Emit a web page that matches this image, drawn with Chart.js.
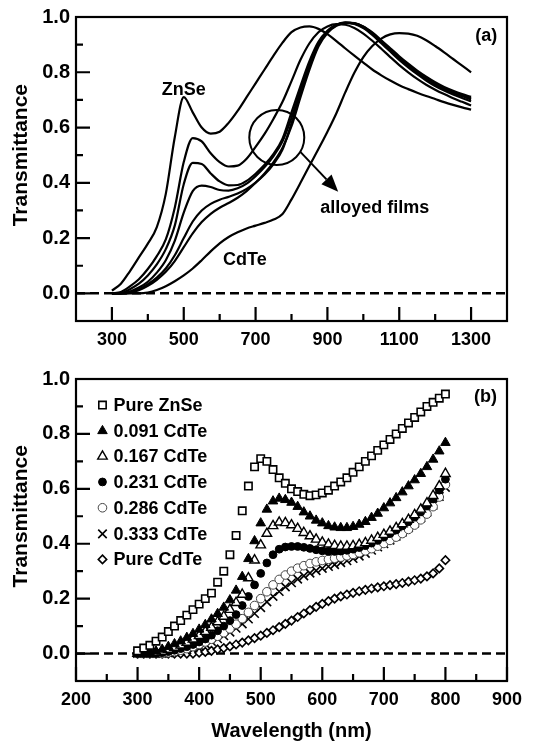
<!DOCTYPE html>
<html lang="en">
<head>
  <meta charset="UTF-8" />
  <title>Transmittance of ZnSe / CdTe films</title>
  <style>
    html, body { margin: 0; padding: 0; background: #fff; }
    canvas { display: block; }
  </style>
</head>
<body>
  <canvas id="chartA" width="551" height="370"></canvas>
  <canvas id="chartB" width="551" height="371"></canvas>

  <script src="https://cdn.jsdelivr.net/npm/chart.js"></script>
  <script>
    // ---- panel (a): full spectra, 300-1300 nm ----
    const aWave = [300, 325, 350, 375, 400, 425, 450, 475, 500, 525, 550, 575, 600, 625, 650, 675, 700, 725, 750, 775,
                   800, 825, 850, 875, 900, 925, 950, 975, 1000, 1025, 1050, 1075, 1100, 1125, 1150, 1175, 1200, 1225, 1250, 1275, 1300];
    const aZnSe = [0.01, 0.035, 0.08, 0.13, 0.18, 0.24, 0.36, 0.565, 0.71, 0.655, 0.60, 0.578, 0.585, 0.617, 0.66, 0.71, 0.76, 0.81, 0.86, 0.907,
                   0.945, 0.962, 0.966, 0.957, 0.938, 0.913, 0.886, 0.86, 0.835, 0.81, 0.789, 0.77, 0.753, 0.739, 0.726, 0.714, 0.703, 0.692, 0.682, 0.673, 0.665];
    const a0091 = [0, 0.005, 0.025, 0.051, 0.088, 0.135, 0.195, 0.31, 0.475, 0.562, 0.55, 0.507, 0.475, 0.459, 0.462, 0.487, 0.53, 0.577, 0.632, 0.693,
                   0.768, 0.845, 0.905, 0.945, 0.966, 0.974, 0.972, 0.96, 0.94, 0.914, 0.885, 0.855, 0.826, 0.8, 0.776, 0.755, 0.737, 0.721, 0.706, 0.693, 0.68];
    const a0167 = [0, 0.001, 0.015, 0.035, 0.065, 0.105, 0.16, 0.245, 0.395, 0.472, 0.468, 0.434, 0.405, 0.391, 0.392, 0.407, 0.433, 0.465, 0.505, 0.56,
                   0.655, 0.75, 0.84, 0.91, 0.95, 0.972, 0.98, 0.975, 0.96, 0.935, 0.905, 0.875, 0.845, 0.818, 0.793, 0.77, 0.75, 0.734, 0.72, 0.707, 0.695];
    const a0231 = [0, 0, 0.007, 0.021, 0.042, 0.075, 0.12, 0.19, 0.292, 0.37, 0.39, 0.385, 0.374, 0.372, 0.38, 0.397, 0.424, 0.457, 0.497, 0.55,
                   0.635, 0.735, 0.83, 0.905, 0.948, 0.972, 0.98, 0.977, 0.963, 0.94, 0.91, 0.88, 0.85, 0.822, 0.797, 0.775, 0.755, 0.739, 0.725, 0.713, 0.702];
    const a0286 = [0, 0, 0.003, 0.015, 0.033, 0.057, 0.09, 0.138, 0.2, 0.26, 0.3, 0.324, 0.339, 0.349, 0.361, 0.378, 0.401, 0.43, 0.468, 0.52,
                   0.615, 0.72, 0.82, 0.9, 0.945, 0.97, 0.98, 0.978, 0.965, 0.942, 0.913, 0.883, 0.853, 0.826, 0.8, 0.778, 0.758, 0.742, 0.728, 0.717, 0.707];
    const a0333 = [0, 0, 0.002, 0.011, 0.027, 0.049, 0.078, 0.117, 0.167, 0.217, 0.258, 0.288, 0.31, 0.327, 0.346, 0.37, 0.4, 0.434, 0.475, 0.527,
                   0.605, 0.71, 0.81, 0.893, 0.942, 0.968, 0.978, 0.977, 0.966, 0.944, 0.916, 0.887, 0.858, 0.831, 0.806, 0.784, 0.764, 0.747, 0.733, 0.721, 0.711];
    const aCdTe = [0, 0, 0, 0, 0.003, 0.012, 0.026, 0.044, 0.065, 0.09, 0.12, 0.152, 0.181, 0.204, 0.221, 0.235, 0.245, 0.255, 0.267, 0.287,
                   0.34, 0.40, 0.462, 0.522, 0.585, 0.652, 0.728, 0.798, 0.855, 0.895, 0.922, 0.937, 0.942, 0.94, 0.932, 0.916, 0.895, 0.872, 0.848, 0.824, 0.80];

    // ---- panel (b): sampled every 10 nm, 300-800 nm ----
    const bWave = [300, 310, 320, 330, 340, 350, 360, 370, 380, 390,
                   400, 410, 420, 430, 440, 450, 460, 470, 480, 490,
                   500, 510, 520, 530, 540, 550, 560, 570, 580, 590,
                   600, 610, 620, 630, 640, 650, 660, 670, 680, 690,
                   700, 710, 720, 730, 740, 750, 760, 770, 780, 790, 800];
    const bZnSe = [0.01, 0.02, 0.03, 0.045, 0.06, 0.08, 0.10, 0.12, 0.14, 0.16,
                   0.18, 0.20, 0.22, 0.26, 0.30, 0.36, 0.43, 0.52, 0.61, 0.68,
                   0.71, 0.70, 0.67, 0.64, 0.62, 0.60, 0.59, 0.58, 0.575, 0.578,
                   0.585, 0.595, 0.61, 0.625, 0.64, 0.66, 0.68, 0.70, 0.72, 0.74,
                   0.76, 0.78, 0.80, 0.82, 0.84, 0.86, 0.88, 0.90, 0.915, 0.93, 0.945];
    const b0091 = [0, 0, 0.003, 0.008, 0.015, 0.025, 0.035, 0.045, 0.058, 0.072,
                   0.088, 0.105, 0.125, 0.145, 0.168, 0.195, 0.23, 0.28, 0.345, 0.41,
                   0.475, 0.525, 0.555, 0.565, 0.56, 0.55, 0.535, 0.515, 0.50, 0.485,
                   0.475, 0.465, 0.46, 0.458, 0.458, 0.462, 0.47, 0.48, 0.495, 0.51,
                   0.53, 0.548, 0.567, 0.588, 0.61, 0.632, 0.655, 0.68, 0.707, 0.737, 0.768];
    const b0167 = [0, 0, 0, 0.003, 0.008, 0.015, 0.022, 0.03, 0.04, 0.052,
                   0.065, 0.08, 0.095, 0.115, 0.135, 0.16, 0.185, 0.215, 0.275, 0.34,
                   0.395, 0.437, 0.465, 0.478, 0.476, 0.468, 0.455, 0.44, 0.428, 0.416,
                   0.405, 0.398, 0.393, 0.39, 0.39, 0.392, 0.397, 0.403, 0.412, 0.422,
                   0.433, 0.445, 0.458, 0.472, 0.488, 0.505, 0.525, 0.548, 0.575, 0.61, 0.655];
    const b0231 = [0, 0, 0, 0, 0.003, 0.007, 0.012, 0.018, 0.025, 0.033,
                   0.042, 0.053, 0.067, 0.083, 0.10, 0.12, 0.142, 0.175, 0.208, 0.25,
                   0.292, 0.33, 0.36, 0.38, 0.388, 0.39, 0.39, 0.387, 0.383, 0.378,
                   0.374, 0.372, 0.372, 0.373, 0.376, 0.38, 0.386, 0.393, 0.402, 0.412,
                   0.424, 0.437, 0.45, 0.465, 0.48, 0.497, 0.516, 0.538, 0.563, 0.595, 0.635];
    const b0286 = [0, 0, 0, 0, 0, 0.003, 0.007, 0.012, 0.018, 0.025,
                   0.033, 0.042, 0.052, 0.063, 0.076, 0.09, 0.107, 0.127, 0.15, 0.175,
                   0.20, 0.225, 0.25, 0.27, 0.286, 0.30, 0.311, 0.32, 0.328, 0.334,
                   0.339, 0.343, 0.347, 0.351, 0.356, 0.361, 0.367, 0.374, 0.382, 0.391,
                   0.401, 0.412, 0.424, 0.437, 0.452, 0.468, 0.487, 0.508, 0.535, 0.57, 0.615];
    const b0333 = [0, 0, 0, 0, 0, 0.002, 0.005, 0.009, 0.014, 0.02,
                   0.027, 0.035, 0.044, 0.054, 0.065, 0.078, 0.092, 0.108, 0.126, 0.146,
                   0.167, 0.188, 0.208, 0.226, 0.243, 0.258, 0.271, 0.283, 0.293, 0.302,
                   0.31, 0.317, 0.324, 0.331, 0.338, 0.346, 0.355, 0.365, 0.376, 0.388,
                   0.40, 0.413, 0.427, 0.442, 0.458, 0.475, 0.494, 0.515, 0.54, 0.572, 0.605];
    const bCdTe = [0, 0, 0, 0, 0, 0, 0, 0, 0, 0,
                   0.003, 0.006, 0.01, 0.015, 0.02, 0.026, 0.033, 0.04, 0.048, 0.056,
                   0.065, 0.075, 0.085, 0.096, 0.108, 0.12, 0.133, 0.146, 0.158, 0.17,
                   0.181, 0.191, 0.20, 0.208, 0.215, 0.221, 0.227, 0.232, 0.237, 0.241,
                   0.245, 0.249, 0.253, 0.257, 0.262, 0.267, 0.273, 0.281, 0.292, 0.31, 0.34];

    const bLabels = ['Pure ZnSe', '0.091 CdTe', '0.167 CdTe', '0.231 CdTe', '0.286 CdTe', '0.333 CdTe', 'Pure CdTe'];

    // axis ticks
    const yMajor = [0, 0.2, 0.4, 0.6, 0.8, 1.0];
    const yMinor = [0.1, 0.3, 0.5, 0.7, 0.9];
    const aXMajor = [300, 500, 700, 900, 1100, 1300];
    const aXMinor = [400, 600, 800, 1000, 1200];
    const bXMajor = [200, 300, 400, 500, 600, 700, 800, 900];
    const bXMinor = [250, 350, 450, 550, 650, 750, 850];

    const FONT = '"Liberation Sans", Arial, Helvetica, sans-serif';
    Chart.defaults.font.family = FONT;
    Chart.defaults.color = '#000';

    function pts(xs, ys) {
      return xs.map((x, i) => ({ x: x, y: ys[i] }));
    }

    // marker shapes like chart.js point styles, used for the legend
    function drawMarker(ctx, st, x, y) {
      const r = st.pointRadius;
      ctx.save();
      ctx.lineWidth = st.pointBorderWidth;
      ctx.strokeStyle = st.pointBorderColor;
      ctx.fillStyle = st.pointBackgroundColor;
      ctx.beginPath();
      if (st.pointStyle === 'rect') {
        const s = r * Math.SQRT1_2;
        ctx.rect(x - s, y - s, 2 * s, 2 * s);
      } else if (st.pointStyle === 'triangle') {
        for (let k = 0; k < 3; k++) {
          const ang = k * 2 * Math.PI / 3;
          const px = x + Math.sin(ang) * r, py = y - Math.cos(ang) * r;
          k ? ctx.lineTo(px, py) : ctx.moveTo(px, py);
        }
        ctx.closePath();
      } else if (st.pointStyle === 'circle') {
        ctx.arc(x, y, r, 0, Math.PI * 2);
      } else if (st.pointStyle === 'rectRot') {
        ctx.moveTo(x, y - r); ctx.lineTo(x + r, y); ctx.lineTo(x, y + r); ctx.lineTo(x - r, y);
        ctx.closePath();
      } else if (st.pointStyle === 'crossRot') {
        const d = r * Math.SQRT1_2;
        ctx.moveTo(x - d, y - d); ctx.lineTo(x + d, y + d);
        ctx.moveTo(x - d, y + d); ctx.lineTo(x + d, y - d);
        ctx.stroke(); ctx.restore();
        return;
      }
      ctx.fill();
      ctx.stroke();
      ctx.restore();
    }

    function makeFrame(cfg) {
      return {
        id: 'frame',
        beforeDatasetsDraw(chart) {
          const { ctx, chartArea: a, scales: { y } } = chart;
          const y0 = y.getPixelForValue(0);
          ctx.save();
          ctx.strokeStyle = '#000';
          ctx.lineWidth = 2.5;
          ctx.setLineDash([9, 5]);
          ctx.beginPath();
          ctx.moveTo(a.left, y0);
          ctx.lineTo(a.right, y0);
          ctx.stroke();
          ctx.restore();
        },
        afterDatasetsDraw(chart) {
          const { ctx, chartArea: a, scales: { x, y } } = chart;
          ctx.save();
          ctx.strokeStyle = '#000';
          ctx.lineWidth = 2.2;
          ctx.strokeRect(a.left, a.top, a.right - a.left, a.bottom - a.top);
          ctx.beginPath();
          yMajor.forEach(v => { const p = y.getPixelForValue(v); ctx.moveTo(a.left, p); ctx.lineTo(a.left + 14, p); });
          yMinor.forEach(v => { const p = y.getPixelForValue(v); ctx.moveTo(a.left, p); ctx.lineTo(a.left + 7, p); });
          cfg.xMajor.forEach(v => { const p = x.getPixelForValue(v); ctx.moveTo(p, a.bottom); ctx.lineTo(p, a.bottom - 14); });
          cfg.xMinor.forEach(v => { const p = x.getPixelForValue(v); ctx.moveTo(p, a.bottom); ctx.lineTo(p, a.bottom - 7); });
          ctx.stroke();
          ctx.restore();
        },
        afterDraw(chart) {
          const { ctx, chartArea: a, scales: { x, y } } = chart;
          ctx.save();
          ctx.fillStyle = '#000';
          ctx.strokeStyle = '#000';

          // y title
          ctx.font = 'bold 21px ' + FONT;
          ctx.textAlign = 'center';
          ctx.textBaseline = 'middle';
          ctx.save();
          ctx.translate(21, y.getPixelForValue(0.5));
          ctx.rotate(-Math.PI / 2);
          ctx.fillText('Transmittance', 0, 0);
          ctx.restore();

          if (cfg.xTitle) {
            ctx.font = 'bold 20px ' + FONT;
            ctx.textBaseline = 'alphabetic';
            ctx.fillText(cfg.xTitle, (a.left + a.right) / 2, chart.height - 4);
          }

          // text notes
          ctx.font = 'bold 18px ' + FONT;
          ctx.textBaseline = 'alphabetic';
          cfg.notes.forEach(n => {
            ctx.fillText(n.text, x.getPixelForValue(n.x), y.getPixelForValue(n.y));
          });

          // circle and arrow
          if (cfg.circle) {
            ctx.lineWidth = 2;
            ctx.beginPath();
            ctx.arc(x.getPixelForValue(cfg.circle.x), y.getPixelForValue(cfg.circle.y), cfg.circle.r, 0, Math.PI * 2);
            ctx.stroke();
          }
          if (cfg.arrow) {
            const x1 = x.getPixelForValue(cfg.arrow.x1), y1 = y.getPixelForValue(cfg.arrow.y1);
            const x2 = x.getPixelForValue(cfg.arrow.x2), y2 = y.getPixelForValue(cfg.arrow.y2);
            const ang = Math.atan2(y2 - y1, x2 - x1);
            const hl = 17, hw = 7;
            const bx = x2 - Math.cos(ang) * hl, by = y2 - Math.sin(ang) * hl;
            ctx.lineWidth = 2;
            ctx.beginPath();
            ctx.moveTo(x1, y1);
            ctx.lineTo(bx, by);
            ctx.stroke();
            ctx.beginPath();
            ctx.moveTo(x2, y2);
            ctx.lineTo(bx - Math.sin(ang) * hw, by + Math.cos(ang) * hw);
            ctx.lineTo(bx + Math.sin(ang) * hw, by - Math.cos(ang) * hw);
            ctx.closePath();
            ctx.fill();
          }

          // legend inside the plot
          if (cfg.legend) {
            const lg = cfg.legend;
            const mx = x.getPixelForValue(lg.markX), tx = x.getPixelForValue(lg.textX);
            ctx.font = 'bold 18px ' + FONT;
            ctx.textAlign = 'left';
            ctx.textBaseline = 'middle';
            chart.data.datasets.forEach((ds, i) => {
              const py = y.getPixelForValue(lg.rows[i]);
              drawMarker(ctx, ds, mx, py);
              ctx.fillStyle = '#000';
              ctx.fillText(ds.label, tx, py + 1);
            });
          }
          ctx.restore();
        }
      };
    }

    function scalesFor(xMin, xMax, xTicks, xHeight) {
      return {
        x: {
          type: 'linear', min: xMin, max: xMax,
          grid: { display: false, drawTicks: false },
          border: { display: false },
          afterBuildTicks: (axis) => { axis.ticks = xTicks.map(v => ({ value: v })); },
          afterFit: (axis) => { axis.height = xHeight; axis.paddingLeft = 0; axis.paddingRight = 0; },
          ticks: {
            autoSkip: false, maxRotation: 0, padding: 8,
            font: { size: 18, weight: 'bold' },
            callback: (v) => String(v)
          }
        },
        y: {
          type: 'linear', min: -0.1, max: 1.0,
          grid: { display: false, drawTicks: false },
          border: { display: false },
          afterBuildTicks: (axis) => { axis.ticks = yMajor.map(v => ({ value: v })); },
          afterFit: (axis) => { axis.width = 76; axis.paddingTop = 0; axis.paddingBottom = 0; },
          ticks: {
            autoSkip: false, padding: 6,
            font: { size: 20, weight: 'bold' },
            callback: (v) => Number(v).toFixed(1)
          }
        }
      };
    }

    // panel (a)
    const aSeries = [aZnSe, a0091, a0167, a0231, a0286, a0333, aCdTe];
    new Chart(document.getElementById('chartA'), {
      type: 'line',
      data: {
        datasets: aSeries.map((s, i) => ({
          label: bLabels[i],
          data: pts(aWave, s),
          borderColor: '#000',
          borderWidth: 2.2,
          pointRadius: 0,
          fill: false,
          cubicInterpolationMode: 'monotone'
        }))
      },
      options: {
        responsive: false,
        animation: false,
        layout: { padding: { top: 17, right: 44, left: 0, bottom: 0 } },
        plugins: { legend: { display: false }, tooltip: { enabled: false } },
        scales: scalesFor(200, 1400, aXMajor, 49)
      },
      plugins: [makeFrame({
        xMajor: aXMajor, xMinor: aXMinor,
        notes: [
          { text: 'ZnSe', x: 500, y: 0.718 },
          { text: 'CdTe', x: 670, y: 0.1025 },
          { text: 'alloyed films', x: 1032, y: 0.29 },
          { text: '(a)', x: 1342, y: 0.912 }
        ],
        circle: { x: 759, y: 0.564, r: 27.5 },
        arrow: { x1: 824, y1: 0.513, x2: 930, y2: 0.368 }
      })]
    });

    // panel (b)
    const bSeries = [bZnSe, b0091, b0167, b0231, b0286, b0333, bCdTe];
    const bMarks = [
      { pointStyle: 'rect', pointRadius: 5.2, pointBackgroundColor: '#fff', pointBorderColor: '#000', pointBorderWidth: 1.6 },
      { pointStyle: 'triangle', pointRadius: 5.5, pointBackgroundColor: '#000', pointBorderColor: '#000', pointBorderWidth: 1 },
      { pointStyle: 'triangle', pointRadius: 5.5, pointBackgroundColor: '#fff', pointBorderColor: '#000', pointBorderWidth: 1.4 },
      { pointStyle: 'circle', pointRadius: 3.9, pointBackgroundColor: '#000', pointBorderColor: '#000', pointBorderWidth: 1 },
      { pointStyle: 'circle', pointRadius: 4.3, pointBackgroundColor: '#fff', pointBorderColor: '#444', pointBorderWidth: 1 },
      { pointStyle: 'crossRot', pointRadius: 6, pointBackgroundColor: '#000', pointBorderColor: '#000', pointBorderWidth: 1.6 },
      { pointStyle: 'rectRot', pointRadius: 4.2, pointBackgroundColor: '#fff', pointBorderColor: '#000', pointBorderWidth: 1.6 }
    ];
    new Chart(document.getElementById('chartB'), {
      type: 'scatter',
      data: {
        datasets: bSeries.map((s, i) => Object.assign({
          label: bLabels[i],
          data: pts(bWave, s),
          showLine: false
        }, bMarks[i]))
      },
      options: {
        responsive: false,
        animation: false,
        layout: { padding: { top: 9, right: 44, left: 0, bottom: 0 } },
        plugins: { legend: { display: false }, tooltip: { enabled: false } },
        scales: scalesFor(200, 900, bXMajor, 60)
      },
      plugins: [makeFrame({
        xMajor: bXMajor, xMinor: bXMinor,
        xTitle: 'Wavelength (nm)',
        notes: [{ text: '(b)', x: 865, y: 0.917 }],
        legend: { markX: 243, textX: 261, rows: [0.905, 0.811, 0.718, 0.625, 0.531, 0.436, 0.343] }
      })]
    });
  </script>
</body>
</html>
